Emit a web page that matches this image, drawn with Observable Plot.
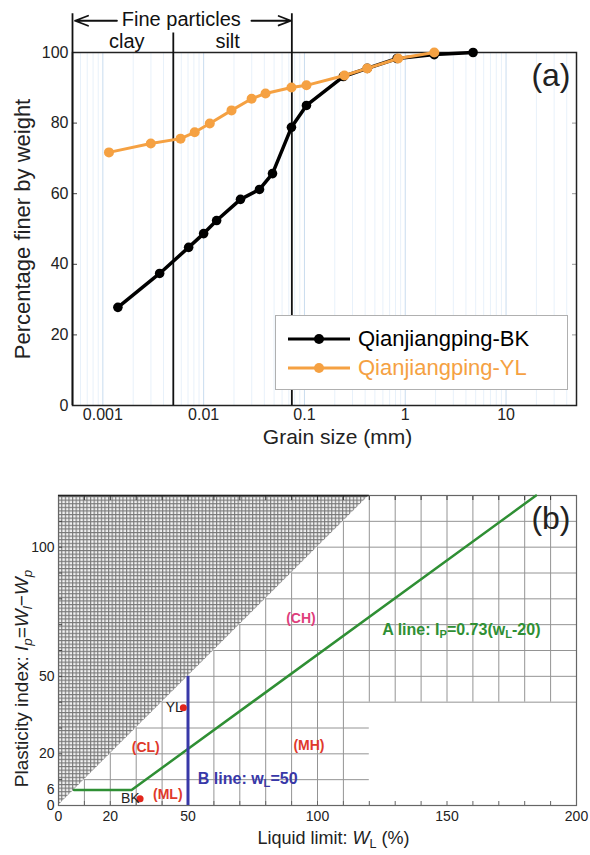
<!DOCTYPE html>
<html><head><meta charset="utf-8">
<script src="https://cdn.jsdelivr.net/npm/d3@7"></script>
<script src="https://cdn.jsdelivr.net/npm/@observablehq/plot@0.6"></script>
<style>
body{margin:0;background:#fff;font-family:"Liberation Sans",Arial,Helvetica,sans-serif;}
#wrap{position:relative;width:590px;height:855px;overflow:hidden;}
#wrap > svg{display:block;}
.legend{position:absolute;left:275px;top:315px;width:293px;height:75px;border:1px solid #b0b0b0;background:#fff;box-sizing:border-box;}
.legend .row{position:absolute;left:12px;height:28px;display:flex;align-items:center;gap:6px;font-size:22px;white-space:nowrap;}
</style></head><body><div id="wrap"></div>
<script>
// ---------- Panel (a) data: grain size distribution ----------
const seriesNames = ["Qianjiangping-BK", "Qianjiangping-YL"];
const seriesColors = ["#000000", "#f5a142"];
const bkSize = [0.00141, 0.00366, 0.0071, 0.0100, 0.01345, 0.0232, 0.0358, 0.0482, 0.0743, 0.1047, 0.243, 0.42, 0.83, 1.94, 4.71];
const bkPct  = [27.8, 37.4, 44.8, 48.7, 52.4, 58.4, 61.2, 65.7, 78.8, 85.0, 93.2, 95.5, 98.3, 99.4, 100];
const ylSize = [0.00115, 0.00299, 0.0059, 0.00815, 0.0115, 0.0189, 0.0299, 0.0411, 0.0743, 0.1047, 0.249, 0.42, 0.85, 1.94];
const ylPct  = [71.7, 74.2, 75.6, 77.4, 79.9, 83.6, 86.9, 88.4, 90.1, 90.7, 93.5, 95.5, 98.3, 100];
const xTicksA = [0.001, 0.01, 0.1, 1, 10];
const yTicksA = [0, 20, 40, 60, 80, 100];
const boundaryX = [0.0005, 0.005, 0.075];   // axis extension, clay/silt, fine-particle limit
const boundaryTop = [111, 105.5, 111];

// ---------- Panel (b) data: plasticity chart ----------
const limitTicks = [0, 20, 50, 100, 150, 200];
const piTicks = [0, 6, 20, 50, 100];
const sampleNames = ["BK", "YL"];
const sampleLL = [31.5, 48.2];
const samplePI = [2.6, 37.8];
const zoneNames = ["(CL)", "(ML)", "(MH)", "(CH)"];
const zoneLL = [33.7, 42.2, 96.7, 93.6];
const zonePI = [22.5, 4.3, 23.2, 72.4];
const zoneColors = ["#e0392b", "#e0392b", "#e0392b", "#e0407c"];
const aSlope = 0.73, aOffset = 20, uPI = 6, bLineLL = 50, piMax = 120;

const FONT = '"Liberation Sans", Arial, Helvetica, sans-serif';
const wrap = document.getElementById("wrap");

const bk = bkSize.map((s, i) => ({size: s, pct: bkPct[i]}));
const yl = ylSize.map((s, i) => ({size: s, pct: ylPct[i]}));
const grid = [];
for (let e = -4; e <= 1; e++) for (let k = 1; k <= 9; k++) {
  const v = +(k * Math.pow(10, e)).toPrecision(3);
  if (v >= 5e-4 && v <= 50) grid.push({v, major: k === 1});
}
const bounds = boundaryX.map((x, i) => ({x, top: boundaryTop[i]}));

const plotA = Plot.plot({
  width: 590, height: 460, marginLeft: 72, marginRight: 14, marginTop: 52, marginBottom: 55,
  style: {fontFamily: FONT, background: "#fff", color: "#222", overflow: "visible"},
  x: {type: "log", domain: [5e-4, 50]},
  y: {domain: [0, 100]},
  marks: [
    Plot.ruleX(grid.filter(d => !d.major), {x: "v", stroke: "#e8f1fa", strokeWidth: 1}),
    Plot.ruleX(grid.filter(d => d.major), {x: "v", stroke: "#c9dcef", strokeWidth: 1}),
    Plot.axisX(xTicksA, {tickSize: 0, tickPadding: 3, tickFormat: d => String(d), label: null, fontSize: 16}),
    Plot.axisY(yTicksA, {tickSize: 0, tickPadding: 4, label: null, fontSize: 16}),
    Plot.axisY(yTicksA, {tickSize: 5, dx: 5, fill: "none", stroke: "#444"}),
    Plot.axisY(yTicksA, {anchor: "right", tickSize: 5, dx: -5, fill: "none", stroke: "#999"}),
    Plot.frame({stroke: "#222", strokeWidth: 1.5}),
    Plot.ruleX(bounds, {x: "x", y1: 0, y2: "top", stroke: "#111", strokeWidth: 1.8}),
    Plot.arrow([{x1: 0.00138, x2: 5.3e-4}, {x1: 0.0298, x2: 0.0735}], {x1: "x1", x2: "x2", y1: 109, y2: 109, stroke: "#111", strokeWidth: 1.8, headLength: 17, headAngle: 42}),
    Plot.text(["Fine particles"], {x: 0.006, y: 109.3, text: d => d, fontSize: 20, fill: "#111"}),
    Plot.text(["clay", "silt"], {x: [0.00173, 0.0173], y: 103.2, text: d => d, fontSize: 20, fill: "#111"}),
    Plot.line(bk, {x: "size", y: "pct", stroke: seriesColors[0], strokeWidth: 3.5}),
    Plot.dot(bk, {x: "size", y: "pct", r: 4.8, fill: seriesColors[0]}),
    Plot.line(yl, {x: "size", y: "pct", stroke: seriesColors[1], strokeWidth: 3}),
    Plot.dot(yl, {x: "size", y: "pct", r: 5, fill: seriesColors[1]}),
    Plot.text(["(a)"], {frameAnchor: "top-right", textAnchor: "end", lineAnchor: "middle", dx: -6, dy: 23, text: d => d, fontSize: 32, fill: "#222"}),
    Plot.text(["Grain size (mm)"], {frameAnchor: "bottom", lineAnchor: "middle", dx: 13, dy: 32, text: d => d, fontSize: 21, fill: "#222"}),
    Plot.text(["Percentage finer by weight"], {frameAnchor: "left", textAnchor: "middle", rotate: -90, dx: -50, dy: 0, text: d => d, fontSize: 22, fill: "#222"})
  ]
});
wrap.appendChild(plotA);

const leg = document.createElement("div");
leg.className = "legend";
leg.innerHTML = seriesNames.map((n, i) =>
  `<div class="row" style="top:${i ? 38 : 9}px;color:${seriesColors[i]}"><svg width="64" height="14"><line x1="0" y1="7" x2="62" y2="7" stroke="${seriesColors[i]}" stroke-width="3"/><circle cx="31" cy="7" r="5" fill="${seriesColors[i]}"/></svg><span>${n}</span></div>`
).join("");
wrap.appendChild(leg);

// ---------- Panel (b) ----------
const step = 10;
const vGrid = [], hGrid = [];
for (let k = step; k < 200; k += step) vGrid.push(k < 120 ? {x: k, y1: 0, y2: k} : {x: k, y1: 40, y2: piMax});
for (let k = step; k < piMax; k += step) hGrid.push({y: k, x1: k, x2: k < 40 ? 120 : 200});
const aLine = [
  {ll: uPI, pi: uPI},
  {ll: aOffset + uPI / aSlope, pi: uPI},
  {ll: aOffset + piMax / aSlope, pi: piMax}
];
const samples = sampleNames.map((n, i) => ({n, ll: sampleLL[i], pi: samplePI[i]}));
const zones = zoneNames.map((n, i) => ({n, ll: zoneLL[i], pi: zonePI[i], c: zoneColors[i]}));
const tick10 = d3.range(0, 201, 10);
const tickY10 = d3.range(0, 121, 10);

const plotB = Plot.plot({
  width: 590, height: 395, marginLeft: 58, marginRight: 14, marginTop: 35, marginBottom: 50,
  style: {fontFamily: FONT, background: "#fff", color: "#222", overflow: "visible"},
  x: {domain: [0, 200]},
  y: {domain: [0, piMax]},
  marks: [
    Plot.areaY([0, piMax], {x: d => d, y1: d => d, y2: piMax, fill: "url(#mesh)"}),
    Plot.ruleX(vGrid, {x: "x", y1: "y1", y2: "y2", stroke: "#949494", strokeWidth: 1}),
    Plot.ruleY(hGrid, {y: "y", x1: "x1", x2: "x2", stroke: "#949494", strokeWidth: 1}),
    Plot.axisX(tick10, {tickSize: 4, dy: -4, fill: "none", stroke: "#666"}),
    Plot.axisX(tick10, {anchor: "top", tickSize: 4, dy: 4, fill: "none", stroke: "#333"}),
    Plot.axisY(tickY10, {tickSize: 4, dx: 4, fill: "none", stroke: "#444"}),
    Plot.axisX(limitTicks, {tickSize: 0, tickPadding: 6, label: null, fontSize: 14}),
    Plot.axisY(piTicks, {tickSize: 0, tickPadding: 4, label: null, fontSize: 14}),
    Plot.frame({stroke: "#666", strokeWidth: 1.2}),
    Plot.ruleY([piMax], {x1: 0, x2: 120, stroke: "#222", strokeWidth: 1.5}),
    Plot.line(aLine, {x: "ll", y: "pi", stroke: "#2f8f34", strokeWidth: 2.5}),
    Plot.ruleX([bLineLL], {y1: 0, y2: 50, stroke: "#3838a8", strokeWidth: 3}),
    Plot.dot(samples, {x: "ll", y: "pi", r: 3.5, fill: "#e2261c"}),
    Plot.text(samples, {x: "ll", y: "pi", text: "n", textAnchor: "end", dx: [-4, 0], dy: [3, 6], fontSize: 14, fill: "#222"}),
    Plot.text(zones, {x: "ll", y: "pi", text: "n", fill: "c", fontWeight: "bold", fontSize: 14}),
    Plot.text(["ALINE"], {x: 125, y: 67.8, text: d => d, textAnchor: "start", fontWeight: "bold", fontSize: 16, fill: "#2f8f34"}),
    Plot.text(["BLINE"], {x: 53.8, y: 10.5, text: d => d, textAnchor: "start", fontWeight: "bold", fontSize: 16, fill: "#3838a8"}),
    Plot.text(["(b)"], {frameAnchor: "top-right", textAnchor: "end", lineAnchor: "middle", dx: -6, dy: 23, text: d => d, fontSize: 32, fill: "#222"}),
    Plot.text(["XLABEL"], {frameAnchor: "bottom", lineAnchor: "middle", dx: 16, dy: 33, text: d => d, fontSize: 18, fill: "#222"}),
    Plot.text(["YLABEL"], {frameAnchor: "left", textAnchor: "middle", rotate: -90, dx: -37, dy: 28, text: d => d, fontSize: 19, fill: "#222"})
  ]
});
wrap.appendChild(plotB);

// hatch pattern for the impossible region (Ip > wL)
const ns = "http://www.w3.org/2000/svg";
const defs = document.createElementNS(ns, "defs");
const pat = document.createElementNS(ns, "pattern");
pat.setAttribute("id", "mesh");
pat.setAttribute("patternUnits", "userSpaceOnUse");
pat.setAttribute("width", "3.6");
pat.setAttribute("height", "3.6");
const pr = document.createElementNS(ns, "rect");
pr.setAttribute("width", "3.6"); pr.setAttribute("height", "3.6"); pr.setAttribute("fill", "#f2f2f2");
const pp = document.createElementNS(ns, "path");
pp.setAttribute("d", "M0,0.6H3.6M0.6,0V3.6");
pp.setAttribute("stroke", "#777"); pp.setAttribute("stroke-width", "1.1"); pp.setAttribute("fill", "none");
pat.appendChild(pr); pat.appendChild(pp); defs.appendChild(pat);
plotB.insertBefore(defs, plotB.firstChild);

// rich text with italics and subscripts
function rich(key, parts) {
  for (const el of plotB.querySelectorAll("text")) {
    if (el.textContent !== key) continue;
    el.textContent = "";
    for (const [t, s] of parts) {
      const ts = document.createElementNS(ns, "tspan");
      ts.textContent = t;
      if (s.includes("i")) ts.setAttribute("font-style", "italic");
      if (s.includes("s")) { ts.setAttribute("font-size", "70%"); ts.setAttribute("baseline-shift", "-28%"); }
      el.appendChild(ts);
    }
  }
}
rich("ALINE", [["A line: I", ""], ["P", "s"], ["=0.73(w", ""], ["L", "s"], ["-20)", ""]]);
rich("BLINE", [["B line: w", ""], ["L", "s"], ["=50", ""]]);
rich("XLABEL", [["Liquid limit: ", ""], ["W", "i"], ["L", "s"], [" (%)", ""]]);
rich("YLABEL", [["Plasticity index: ", ""], ["I", "i"], ["p", "is"], ["=", ""], ["W", "i"], ["l", "is"], ["\u2212", ""], ["W", "i"], ["p", "is"]]);
</script>
</body></html>
